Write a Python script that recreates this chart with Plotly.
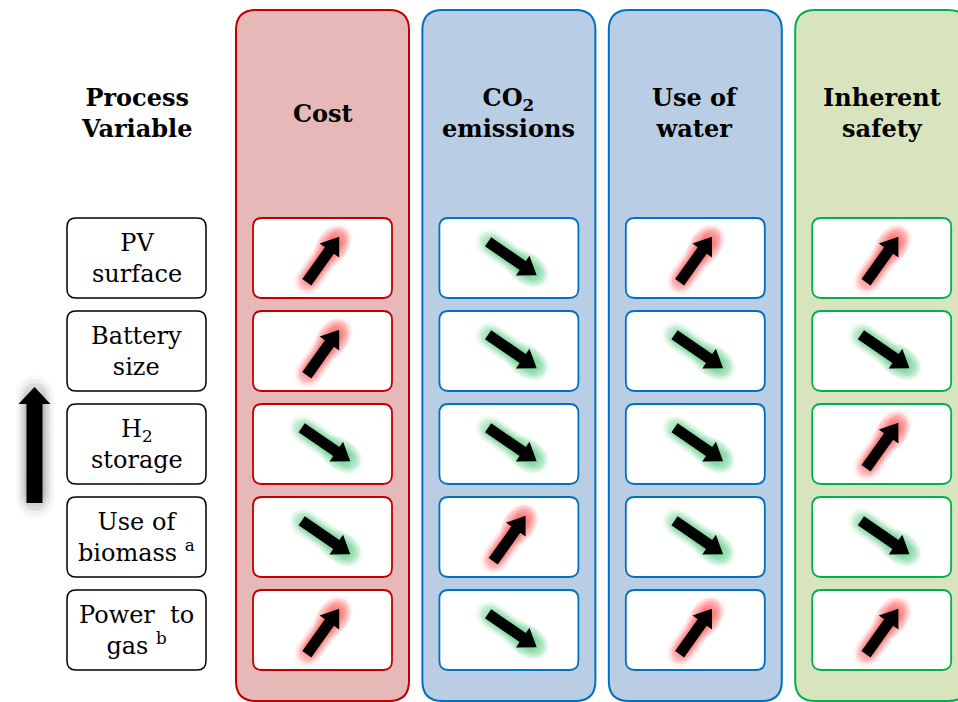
import numpy as np
import plotly.graph_objects as go

# process variables (rows) and criteria (columns)
variables = ["PV<br>surface", "Battery<br>size", "H<sub>2</sub><br>storage",
             "Use of<br>biomass <sup>a</sup>", "Power  to<br>gas <sup>b</sup>"]
criteria = ["Cost", "CO<sub>2</sub><br>emissions", "Use of<br>water", "Inherent<br>safety"]
# +1 = increases, -1 = decreases, when the process variable goes up
effect_cost = [1, 1, -1, -1, 1]
effect_co2 = [-1, -1, -1, 1, -1]
effect_water = [1, -1, -1, -1, 1]
effect_safety = [1, -1, 1, -1, 1]
effects = [effect_cost, effect_co2, effect_water, effect_safety]

# styling
panel_fill = ["#E6B9B8", "#B9CDE5", "#B9CDE5", "#D7E4BD"]
panel_line = ["#C00000", "#0070C0", "#0070C0", "#00B050"]
FONT = "DejaVu Serif"

W, H = 958, 702
col_x0, col_step, col_w = 236, 186.4, 173
row_y0, row_step, row_h = 218, 93, 80
cell_pad, cell_w = 17, 139
lab_x0, lab_x1 = 67, 206


def rrect(x0, y0, x1, y1, r):
    return (f"M{x0+r},{y0} L{x1-r},{y0} Q{x1},{y0} {x1},{y0+r} L{x1},{y1-r} "
            f"Q{x1},{y1} {x1-r},{y1} L{x0+r},{y1} Q{x0},{y1} {x0},{y1-r} "
            f"L{x0},{y0+r} Q{x0},{y0} {x0+r},{y0} Z")


def arrow_pts(cx, cy, ux, uy, L, w, hw, hl):
    nx, ny = -uy, ux
    tx, ty = cx - ux * L / 2, cy - uy * L / 2
    px, py = cx + ux * L / 2, cy + uy * L / 2
    bx, by = px - ux * hl, py - uy * hl
    pts = [(tx + nx * w, ty + ny * w), (bx + nx * w, by + ny * w), (bx + nx * hw, by + ny * hw),
           (px, py), (bx - nx * hw, by - ny * hw), (bx - nx * w, by - ny * w), (tx - nx * w, ty - ny * w)]
    return "M" + " L".join(f"{x:.1f},{y:.1f}" for x, y in pts) + " Z", (tx, ty), (px, py)


fig = go.Figure()
shapes = []
annotations = []

# column panels + headers
for j, name in enumerate(criteria):
    x0 = col_x0 + j * col_step
    shapes.append(dict(type="path", path=rrect(x0, 10, x0 + col_w, 701, 20), layer="below",
                       fillcolor=panel_fill[j], line=dict(color=panel_line[j], width=2)))
    annotations.append(dict(x=x0 + col_w / 2, y=113, text="<b>" + name + "</b>", showarrow=False,
                            font=dict(family=FONT, size=24, color="black")))

annotations.append(dict(x=136, y=113, text="<b>Process<br>Variable</b>", showarrow=False,
                        font=dict(family=FONT, size=24, color="black")))

# row labels
for i, lab in enumerate(variables):
    y0 = row_y0 + i * row_step
    shapes.append(dict(type="path", path=rrect(lab_x0, y0, lab_x1, y0 + row_h, 9), layer="below",
                       fillcolor="white", line=dict(color="black", width=1.5)))
    annotations.append(dict(x=(lab_x0 + lab_x1) / 2, y=y0 + row_h / 2, text=lab, showarrow=False,
                            font=dict(family=FONT, size=24, color="black")))

# cells with arrows
up_dir = np.array([32, -45]) / np.hypot(32, 45)
dn_dir = np.array([48, 33]) / np.hypot(48, 33)
for j, col in enumerate(effects):
    x0 = col_x0 + j * col_step + cell_pad
    for i, e in enumerate(col):
        y0 = row_y0 + i * row_step
        shapes.append(dict(type="path", path=rrect(x0, y0, x0 + cell_w, y0 + row_h, 9), layer="below",
                           fillcolor="white", line=dict(color=panel_line[j], width=1.8)))
        cx, cy = x0 + cell_w / 2, y0 + row_h / 2
        if e > 0:
            u, L, glow = up_dir, 56, "255,95,95"
            cx, cy = cx + 0.5, cy + 1.5
        else:
            u, L, glow = dn_dir, 59, "100,210,140"
            cx, cy = cx + 3.5, cy + 0.5
        path, tail, tip = arrow_pts(cx, cy, u[0], u[1], L, 5.5, 12, 17)
        t = np.linspace(0, 1, 14)
        gx = tail[0] + (tip[0] - tail[0]) * t
        gy = tail[1] + (tip[1] - tail[1]) * t
        for size, a in [(27, 0.06), (21, 0.11), (16, 0.16)]:
            fig.add_trace(go.Scatter(x=gx, y=gy, mode="markers", hoverinfo="skip", showlegend=False,
                                     marker=dict(size=size, color=f"rgba({glow},{a})", line=dict(width=0))))
        th = np.linspace(0.7, 0.9, 4)
        fig.add_trace(go.Scatter(x=tail[0] + (tip[0] - tail[0]) * th, y=tail[1] + (tip[1] - tail[1]) * th,
                                 mode="markers", hoverinfo="skip", showlegend=False,
                                 marker=dict(size=31, color=f"rgba({glow},0.09)", line=dict(width=0))))
        shapes.append(dict(type="path", path=path, fillcolor="black", line=dict(width=0), layer="above"))

# big arrow on the left (process variable increases)
sy = np.linspace(394, 500, 14)
for size, a in [(38, 0.03), (30, 0.05), (22, 0.08)]:
    fig.add_trace(go.Scatter(x=[35] * len(sy), y=sy, mode="markers", hoverinfo="skip", showlegend=False,
                             marker=dict(size=size, color=f"rgba(60,60,60,{a})", line=dict(width=0))))
big, _, _ = arrow_pts(34.5, 445, 0, -1, 116, 8, 16, 17)
shapes.append(dict(type="path", path=big, fillcolor="black", line=dict(width=0), layer="above"))

fig.update_layout(
    width=W, height=H, margin=dict(l=0, r=0, t=0, b=0),
    paper_bgcolor="white", plot_bgcolor="white",
    xaxis=dict(range=[0, W], visible=False, fixedrange=True),
    yaxis=dict(range=[H, 0], visible=False, fixedrange=True),
    shapes=shapes, annotations=annotations, showlegend=False,
)
# drop the default page margin so the figure fills the window exactly
fig.write_html("out.html", config={"displayModeBar": False},
               post_script="document.body.style.margin='0';document.body.style.overflow='hidden';")
